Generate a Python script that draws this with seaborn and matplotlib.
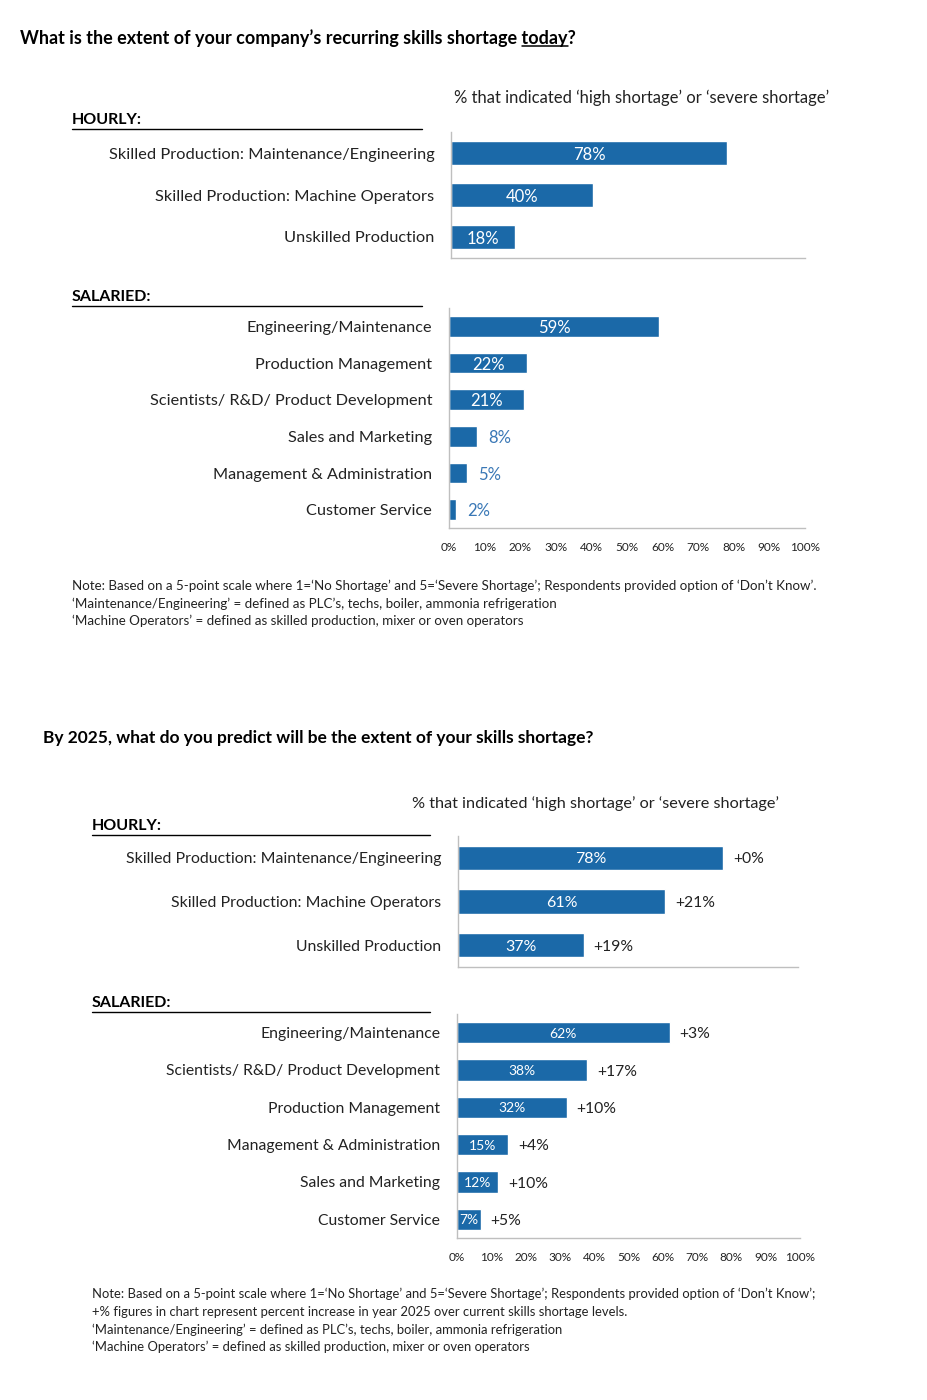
import pandas as pd
import matplotlib
matplotlib.use("Agg")
import matplotlib.pyplot as plt
import seaborn as sns
from matplotlib.lines import Line2D

# chart values
hourly_cats = ["Skilled Production: Maintenance/Engineering",
               "Skilled Production: Machine Operators",
               "Unskilled Production"]
today_hourly_vals = [78, 40, 18]

today_salaried_cats = ["Engineering/Maintenance", "Production Management",
                       "Scientists/ R&D/ Product Development", "Sales and Marketing",
                       "Management & Administration", "Customer Service"]
today_salaried_vals = [59, 22, 21, 8, 5, 2]

future_hourly_vals = [78, 61, 37]
future_hourly_delta = ["+0%", "+21%", "+19%"]

future_salaried_cats = ["Engineering/Maintenance", "Scientists/ R&D/ Product Development",
                        "Production Management", "Management & Administration",
                        "Sales and Marketing", "Customer Service"]
future_salaried_vals = [62, 38, 32, 15, 12, 7]
future_salaried_delta = ["+3%", "+17%", "+10%", "+4%", "+10%", "+5%"]

x_ticks = list(range(0, 101, 10))
x_tick_labels = [f"{t}%" for t in x_ticks]

title_today = "What is the extent of your company\u2019s recurring skills shortage today?"
title_future = "By 2025, what do you predict will be the extent of your skills shortage?"
subtitle = "% that indicated \u2018high shortage\u2019 or \u2018severe shortage\u2019"
notes_today = [
    "Note: Based on a 5-point scale where 1=\u2018No Shortage\u2019 and 5=\u2018Severe Shortage\u2019; Respondents provided option of \u2018Don\u2019t Know\u2019.",
    "\u2018Maintenance/Engineering\u2019 = defined as PLC\u2019s, techs, boiler, ammonia refrigeration",
    "\u2018Machine Operators\u2019 = defined as skilled production, mixer or oven operators",
]
notes_future = [
    "Note: Based on a 5-point scale where 1=\u2018No Shortage\u2019 and 5=\u2018Severe Shortage\u2019; Respondents provided option of \u2018Don\u2019t Know\u2019;",
    "+% figures in chart represent percent increase in year 2025 over current skills shortage levels.",
    "\u2018Maintenance/Engineering\u2019 = defined as PLC\u2019s, techs, boiler, ammonia refrigeration",
    "\u2018Machine Operators\u2019 = defined as skilled production, mixer or oven operators",
]

BLUE = "#1B69A8"
LABEL_BLUE = "#3A78B6"
GRAY = "#BFBFBF"
TXT = "#222222"
TITLE_SIZE = 13

sns.set_style("white")
plt.rcParams["font.family"] = ["Lato", "DejaVu Sans"]

W, H = 927, 1400
fig = plt.figure(figsize=(W / 100, H / 100), dpi=100)


def px_rect(x0, y0, x1, y1):
    return [x0 / W, 1 - y1 / H, (x1 - x0) / W, (y1 - y0) / H]


def ftext(x, y, s, **kw):
    kw.setdefault("va", "center")
    kw.setdefault("color", TXT)
    return fig.text(x / W, 1 - y / H, s, **kw)


def hline(x0, x1, y, lw=1.0):
    fig.add_artist(Line2D([x0 / W, x1 / W], [1 - y / H, 1 - y / H],
                          transform=fig.transFigure, color="black", lw=lw))


def panel(rect, cats, vals, bar_w, show_ticks, inside_min, lab_size, cat_size, deltas=None):
    ax = fig.add_axes(px_rect(*rect))
    df = pd.DataFrame({"cat": cats, "val": vals})
    sns.barplot(data=df, x="val", y="cat", orient="h", color=BLUE,
                saturation=1, width=bar_w, ax=ax)
    ax.set_xlim(0, 100)
    ax.set_ylim(len(cats) - 0.5, -0.5)
    ax.set_xlabel("")
    ax.set_ylabel("")
    ax.set_xticks(x_ticks)
    if show_ticks:
        ax.set_xticklabels(x_tick_labels)
    else:
        ax.set_xticklabels([])
    ax.tick_params(axis="x", length=4, color=GRAY, labelsize=8.5, labelcolor=TXT, pad=6)
    ax.tick_params(axis="y", length=0, pad=12, labelsize=cat_size, labelcolor=TXT)
    for s in ["top", "right"]:
        ax.spines[s].set_visible(False)
    for s in ["left", "bottom"]:
        ax.spines[s].set_color(GRAY)
        ax.spines[s].set_linewidth(1)
    for i, v in enumerate(vals):
        if v >= inside_min:
            ax.text(v / 2, i, f"{v}%", ha="center", va="center_baseline",
                    color="white", fontsize=lab_size)
        else:
            ax.annotate(f"{v}%", (v, i), xytext=(8, 0), textcoords="offset points",
                        ha="left", va="center_baseline", color=LABEL_BLUE, fontsize=lab_size)
        if deltas is not None:
            ax.annotate(deltas[i], (v, i), xytext=(7, 0), textcoords="offset points",
                        ha="left", va="center_baseline", color=TXT, fontsize=11.3)
    return ax


# ---- top block: today
t1 = ftext(20, 38, title_today, fontsize=TITLE_SIZE, fontweight="bold", color="black")
ftext(642, 98, subtitle, fontsize=12, ha="center")
ftext(72, 120, "HOURLY:", fontsize=11.5, fontweight="bold", color="black")
hline(72, 422, 129)
ftext(72, 297, "SALARIED:", fontsize=11.5, fontweight="bold", color="black")
hline(72, 422, 306)

panel((451, 132, 805, 258), hourly_cats, today_hourly_vals, 0.58, False, 10, 12, 11.8)
panel((449, 308, 805, 528), today_salaried_cats, today_salaried_vals, 0.57, True, 10, 12, 11.7)

for k, line in enumerate(notes_today):
    ftext(72, 586 + k * 17.5, line, fontsize=9.6)

# ---- bottom block: 2025
ftext(43, 738, title_future, fontsize=12.5, fontweight="bold", color="black")
ftext(596, 804, subtitle, fontsize=11.7, ha="center")
ftext(92, 826, "HOURLY:", fontsize=11.5, fontweight="bold", color="black")
hline(92, 430, 835)
ftext(92, 1003, "SALARIED:", fontsize=11.5, fontweight="bold", color="black")
hline(92, 430, 1012)

panel((458, 836, 798, 967), hourly_cats, future_hourly_vals, 0.56, False, 0, 11.5, 11.4,
      deltas=future_hourly_delta)
panel((457, 1014, 800, 1238), future_salaried_cats, future_salaried_vals, 0.58, True, 0, 10, 11.3,
      deltas=future_salaried_delta)

for k, line in enumerate(notes_future):
    ftext(92, 1294 + k * 17.7, line, fontsize=9.4)

# underline "today" in the first title
renderer = fig.canvas.get_renderer()


def str_width(s):
    tmp = fig.text(0, 0, s, fontsize=TITLE_SIZE, fontweight="bold")
    w = tmp.get_window_extent(renderer).width
    tmp.remove()
    return w


bb = t1.get_window_extent(renderer)
u0 = bb.x1 - str_width("today?")
u1 = bb.x1 - str_width("?")
uy = bb.y0 + 1
fig.add_artist(Line2D([u0 / W, u1 / W], [uy / H, uy / H],
                      transform=fig.transFigure, color="black", lw=1.1))

fig.savefig("out.png", dpi=100, facecolor="white")
